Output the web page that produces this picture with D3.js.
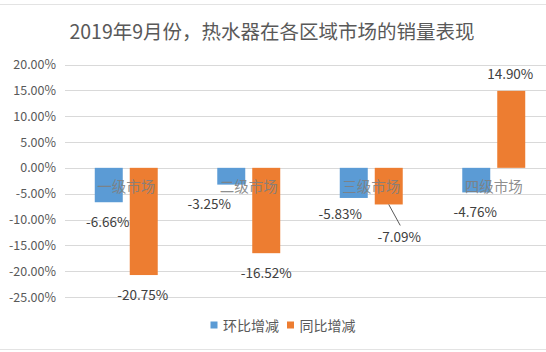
<!DOCTYPE html>
<html>
<head>
<meta charset="utf-8">
<script src="https://cdn.jsdelivr.net/npm/d3@7"></script>
<style>
html,body{margin:0;padding:0;background:#fff;}
svg{display:block;font-family:"Noto Sans CJK SC","Noto Sans",sans-serif;}
</style>
</head>
<body>
<svg id="chart" width="546" height="352"></svg>
<script>
const title = "2019年9月份，热水器在各区域市场的销量表现";
const categories = ["一级市场", "二级市场", "三级市场", "四级市场"];
const seriesNames = ["环比增减", "同比增减"];
const momValues = [-6.66, -3.25, -5.83, -4.76];
const yoyValues = [-20.75, -16.52, -7.09, 14.90];
const yTicks = [20, 15, 10, 5, 0, -5, -10, -15, -20, -25];
const colors = ["#5B9BD5", "#ED7D31"];

const W = 546, H = 352;
const svg = d3.select("#chart");

// frame lines
svg.append("line").attr("x1",0).attr("x2",W).attr("y1",4.5).attr("y2",4.5).attr("stroke","#e3e3e3");
svg.append("line").attr("x1",0).attr("x2",W).attr("y1",349.5).attr("y2",349.5).attr("stroke","#e3e3e3");

const y = d3.scaleLinear().domain([-25, 20]).range([297, 64.5]);
const x = d3.scaleBand().domain(categories).range([65, 555]).paddingInner(0.486).paddingOuter(0.243);
const x1 = d3.scaleBand().domain(seriesNames).range([0, x.bandwidth()]).paddingInner(0.2);

// title
svg.append("text").attr("x", 272).attr("y", 30).attr("text-anchor","middle")
  .attr("dominant-baseline","central").attr("font-size", 19.5).attr("fill","#595959").text(title);

// gridlines
const yAxis = d3.axisLeft(y).tickValues(yTicks).tickSize(0).tickPadding(0)
  .tickFormat(d => d.toFixed(2) + "%");
const gAxis = svg.append("g").attr("transform","translate(56,0)").call(yAxis);
gAxis.select(".domain").remove();
gAxis.selectAll("text").attr("font-size", 12.5).attr("fill","#595959")
  .attr("font-family",'"Noto Sans CJK SC","Noto Sans",sans-serif');

svg.append("g").selectAll("line").data(yTicks).join("line")
  .attr("x1", 65).attr("x2", 555)
  .attr("y1", d => Math.round(y(d)) + 0.5).attr("y2", d => Math.round(y(d)) + 0.5)
  .attr("stroke", "#d9d9d9").attr("stroke-width", 1);

// bars
const rows = categories.map((c, i) => ({cat: c, vals: [momValues[i], yoyValues[i]]}));
const bars = [];
rows.forEach((r, ci) => r.vals.forEach((v, si) => bars.push({cat: r.cat, ci, si, v})));

svg.append("g").selectAll("rect").data(bars).join("rect")
  .attr("x", d => x(d.cat) + x1(seriesNames[d.si]))
  .attr("width", x1.bandwidth())
  .attr("y", d => Math.min(y(0), y(d.v)))
  .attr("height", d => Math.abs(y(d.v) - y(0)))
  .attr("fill", d => colors[d.si]);

// category labels
svg.append("g").selectAll("text").data(categories).join("text")
  .attr("x", d => x(d) + x.bandwidth()/2).attr("y", y(0) + 17.5)
  .attr("text-anchor","middle").attr("dominant-baseline","central")
  .attr("font-size", 14.5).attr("fill","#7f7f7f").attr("fill-opacity",0.9).text(d => d);

// data label nudges [dx, dy] relative to bar end (placement only)
const nudge = [[[-1,18.5],[-1,19]],[[-22,18.5],[0,18.5]],[[-13.5,15.5],[10.5,32]],[[-1,18.5],[-1,-18]]];
bars.forEach(d => {
  const cx = x(d.cat) + x1(seriesNames[d.si]) + x1.bandwidth()/2;
  const ey = y(d.v);
  const [dx, dy] = nudge[d.ci][d.si];
  d.lx = cx + dx; d.ly = ey + dy; d.cx = cx; d.ey = ey;
});
// leader line for -7.09%
const lead = bars.find(d => d.ci === 2 && d.si === 1);
svg.append("line").attr("x1", lead.cx).attr("y1", lead.ey).attr("x2", lead.lx + 1).attr("y2", lead.ly - 11)
  .attr("stroke","#595959").attr("stroke-width",1);

svg.append("g").selectAll("text").data(bars).join("text")
  .attr("x", d => d.lx).attr("y", d => d.ly)
  .attr("text-anchor","middle").attr("dominant-baseline","central")
  .attr("font-size", 13.5).attr("fill","#404040")
  .text(d => d.v.toFixed(2) + "%");

// legend
const leg = svg.append("g");
const legX = [210.5, 287];
seriesNames.forEach((n, i) => {
  leg.append("rect").attr("x", legX[i]).attr("y", 321.5).attr("width", 7).attr("height", 7).attr("fill", colors[i]);
  leg.append("text").attr("x", legX[i] + 12.5).attr("y", 325).attr("dominant-baseline","central")
    .attr("font-size", 14).attr("fill","#595959").text(n);
});
</script>
</body>
</html>
